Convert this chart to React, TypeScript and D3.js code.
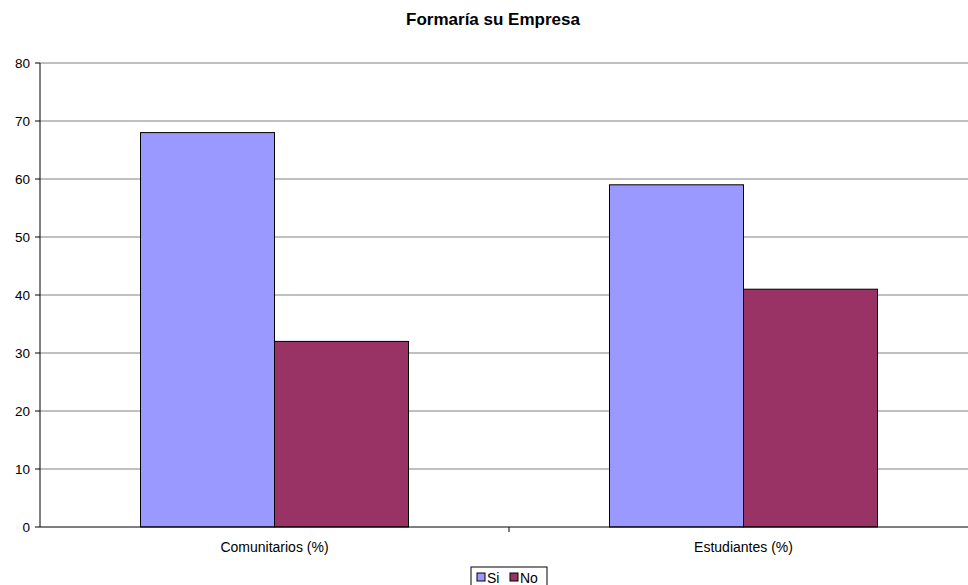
import React from "react";
import * as d3 from "d3";

const categories = ["Comunitarios (%)", "Estudiantes (%)"];
const seriesNames = ["Si", "No"];
const siValues = [68, 59];
const noValues = [32, 41];
const yTicks = [0, 10, 20, 30, 40, 50, 60, 70, 80];
const colors = ["#9999FF", "#993366"];
const title = "Formaría su Empresa";

export default function App() {
  const W = 968, H = 585;
  const left = 40, right = 978, top = 63, bottom = 527;
  const x = d3.scaleBand<string>().domain(categories).range([left, right]).paddingInner(0).paddingOuter(0);
  const y = d3.scaleLinear().domain([0, 80]).range([bottom, top]);
  const bw = x.bandwidth();
  const groupW = bw / (1 + 0.75);
  const x1 = d3.scaleBand<string>().domain(seriesNames).range([0, groupW]);
  const series = [siValues, noValues];
  const font = "'Liberation Sans', Arial, sans-serif";
  const legendX = [477, 510];
  return (
    <svg width={W} height={H} style={{ position: "absolute", left: 0, top: 0, background: "#fff" }} fontFamily={font}>
      <text x={493} y={25} textAnchor="middle" fontSize={17} fontWeight="bold">{title}</text>
      {yTicks.map(t => (
        <g key={t}>
          {t > 0 && <line x1={left} x2={right} y1={y(t)} y2={y(t)} stroke="#808080" strokeWidth={1} />}
          <line x1={left - 5} x2={left} y1={y(t)} y2={y(t)} stroke="#000" />
          <text x={left - 10} y={y(t) + 5} textAnchor="end" fontSize={13.5}>{t}</text>
        </g>
      ))}
      {categories.map((c, ci) => (
        <g key={c}>
          {series.map((s, si) => {
            const bx = (x(c) as number) + (bw - groupW) / 2 + (x1(seriesNames[si]) as number);
            return (
              <rect key={si} x={bx} y={y(s[ci])} width={x1.bandwidth()} height={bottom - y(s[ci])}
                fill={colors[si]} stroke="#000" strokeWidth={1} />
            );
          })}
          <text x={(x(c) as number) + bw / 2} y={552} textAnchor="middle" fontSize={14}>{c}</text>
        </g>
      ))}
      <line x1={left} x2={left} y1={top} y2={bottom} stroke="#000" />
      <line x1={left} x2={right} y1={bottom} y2={bottom} stroke="#000" />
      {categories.slice(1).map(c => (
        <line key={c} x1={x(c)} x2={x(c)} y1={bottom} y2={bottom + 5} stroke="#000" />
      ))}
      <rect x={471} y={567} width={76} height={24} fill="#fff" stroke="#000" />
      {seriesNames.map((n, i) => (
        <g key={n}>
          <rect x={legendX[i]} y={573} width={8} height={8} fill={colors[i]} stroke="#000" />
          <text x={legendX[i] + 10} y={583} fontSize={14}>{n}</text>
        </g>
      ))}
    </svg>
  );
}
